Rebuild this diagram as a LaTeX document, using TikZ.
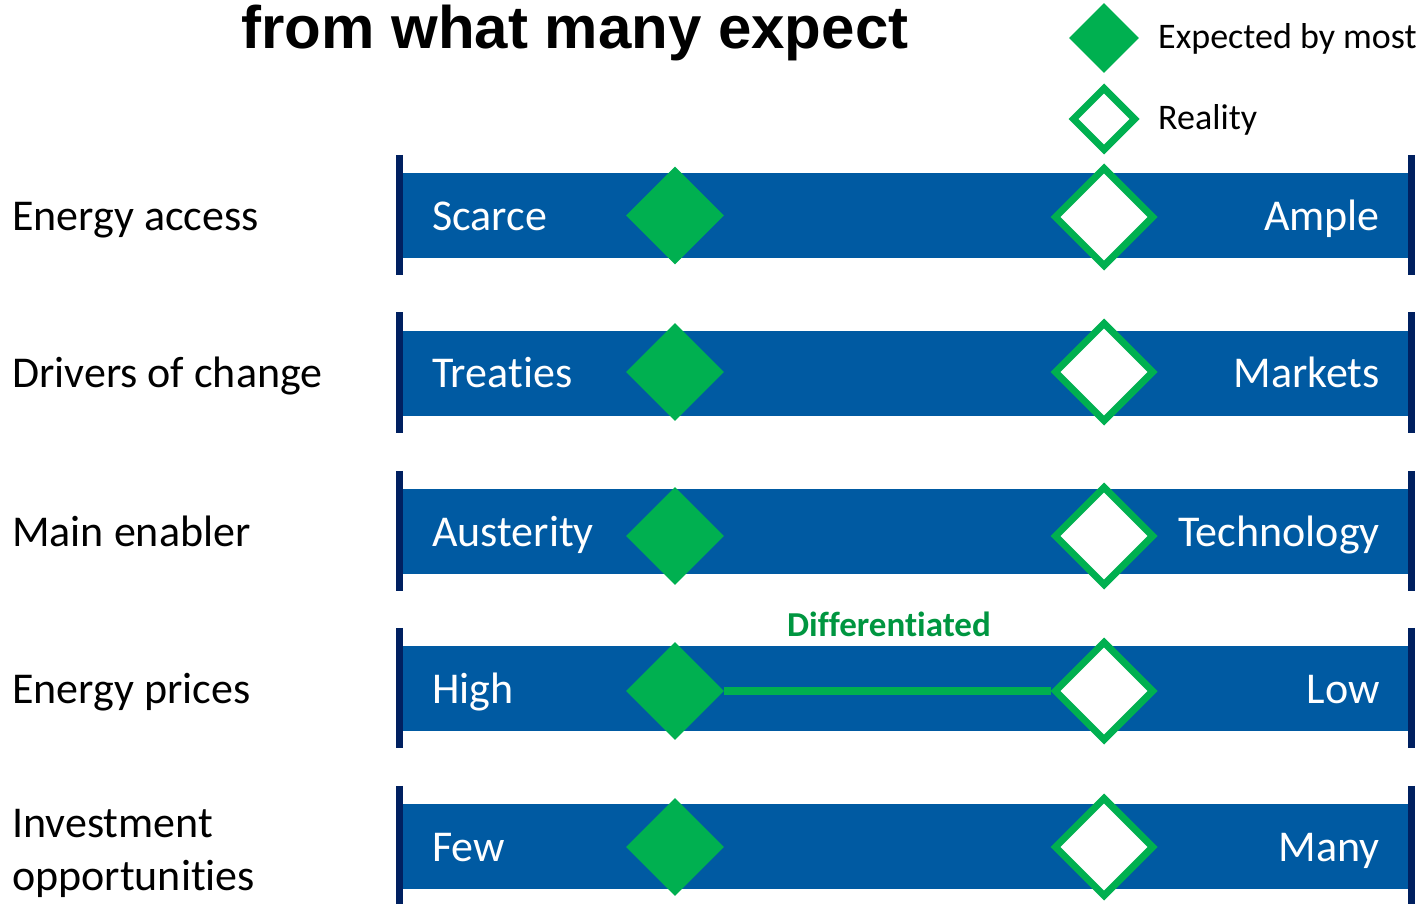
\documentclass[tikz,border=0pt]{standalone}
\usepackage{fontspec}
\setmainfont{Carlito}[Ligatures=NoCommon]
\newfontfamily\titlefont{Liberation Sans}
\usepackage{tikz}
\usetikzlibrary{shapes.geometric}

\definecolor{barblue}{RGB}{0,90,162}
\definecolor{ticknavy}{RGB}{0,32,96}
\definecolor{markgreen}{RGB}{0,176,80}
\definecolor{notegreen}{RGB}{0,150,64}

\begin{document}
\begin{tikzpicture}[x=1pt,y=-1pt]
\tikzset{BarStyle/.style = {fill= barblue, minimum width= 1005pt, minimum height= 85pt, inner sep= 0pt},
         TickStyle/.style = {draw= ticknavy, line width= 7pt},
         ExpectStyle/.style = {diamond, aspect= 1, fill= markgreen, minimum size= 98pt, inner sep= 0pt},
         RealStyle/.style = {diamond, aspect= 1, draw= markgreen, fill= white, line width= 7pt, minimum size= 100pt, inner sep= 0pt},
         BarText/.style = {text= white, inner sep= 0pt, font= \fontsize{44}{50}\selectfont},
         RowLabel/.style = {anchor= base west, inner sep= 0pt, align= left, font= \fontsize{44}{53}\selectfont},
         KeyText/.style = {anchor= west, inner sep= 0pt, font= \fontsize{36}{42}\selectfont}
}
    \useasboundingbox (0,0) rectangle (1423,904);

    % Title and key
    \node[anchor= base, inner sep= 0pt, font= \titlefont\bfseries\fontsize{60}{70}\selectfont] (title) at (575,49) {from what many expect};
    \node[ExpectStyle, minimum size= 70pt] (keyexp) at (1104,38) {};
    \node[RealStyle, minimum size= 64pt] (keyreal) at (1104,119) {};
    \node[KeyText] (keyexptext) at (1158,39) {Expected by most};
    \node[KeyText] (keyrealtext) at (1158,120) {Reality};

    % Rows: bars
    \node[BarStyle] (bar1) at (905.5,215.5) {};
    \node[BarStyle] (bar2) at (905.5,373) {};
    \node[BarStyle] (bar3) at (905.5,531.5) {};
    \node[BarStyle] (bar4) at (905.5,688.5) {};
    \node[BarStyle] (bar5) at (905.5,846.5) {};

    % end ticks
    \draw[TickStyle] ([xshift=-3.5pt,yshift=18pt]bar1.north west) -- ([xshift=-3.5pt,yshift=-17pt]bar1.south west);
    \draw[TickStyle] ([xshift=3.5pt,yshift=18pt]bar1.north east) -- ([xshift=3.5pt,yshift=-17pt]bar1.south east);
    \draw[TickStyle] ([xshift=-3.5pt,yshift=18pt]bar2.north west) -- ([xshift=-3.5pt,yshift=-17pt]bar2.south west);
    \draw[TickStyle] ([xshift=3.5pt,yshift=18pt]bar2.north east) -- ([xshift=3.5pt,yshift=-17pt]bar2.south east);
    \draw[TickStyle] ([xshift=-3.5pt,yshift=18pt]bar3.north west) -- ([xshift=-3.5pt,yshift=-17pt]bar3.south west);
    \draw[TickStyle] ([xshift=3.5pt,yshift=18pt]bar3.north east) -- ([xshift=3.5pt,yshift=-17pt]bar3.south east);
    \draw[TickStyle] ([xshift=-3.5pt,yshift=18pt]bar4.north west) -- ([xshift=-3.5pt,yshift=-17pt]bar4.south west);
    \draw[TickStyle] ([xshift=3.5pt,yshift=18pt]bar4.north east) -- ([xshift=3.5pt,yshift=-17pt]bar4.south east);
    \draw[TickStyle] ([xshift=-3.5pt,yshift=18pt]bar5.north west) -- ([xshift=-3.5pt,yshift=-17pt]bar5.south west);
    \draw[TickStyle] ([xshift=3.5pt,yshift=18pt]bar5.north east) -- ([xshift=3.5pt,yshift=-17pt]bar5.south east);

    % Row labels
    \node[RowLabel] (lab1) at (12,230) {Energy access};
    \node[RowLabel] (lab2) at (12,387.5) {Drivers of change};
    \node[RowLabel] (lab3) at (12,546) {Main enabler};
    \node[RowLabel] (lab4) at (12,703) {Energy prices};
    \node[RowLabel, anchor= west] (lab5) at (12,853) {Investment\\opportunities};

    % Bar ends
    \node[BarText, anchor= base west] (left1) at (432,230) {Scarce};
    \node[BarText, anchor= base east] (right1) at (1380,230) {Ample};
    \node[BarText, anchor= base west] (left2) at (432,387.5) {Treaties};
    \node[BarText, anchor= base east] (right2) at (1380,387.5) {Markets};
    \node[BarText, anchor= base west] (left3) at (432,546) {Austerity};
    \node[BarText, anchor= base east] (right3) at (1380,546) {Technology};
    \node[BarText, anchor= base west] (left4) at (432,703) {High};
    \node[BarText, anchor= base east] (right4) at (1380,703) {Low};
    \node[BarText, anchor= base west] (left5) at (432,861) {Few};
    \node[BarText, anchor= base east] (right5) at (1380,861) {Many};

    % Markers
    \node[ExpectStyle] (exp1) at (675,215.5) {};
    \node[RealStyle] (real1) at (1104,217) {};
    \node[ExpectStyle] (exp2) at (675,372) {};
    \node[RealStyle] (real2) at (1104,372) {};
    \node[ExpectStyle] (exp3) at (675,536) {};
    \node[RealStyle] (real3) at (1104,536) {};
    \node[ExpectStyle] (exp4) at (675,691) {};
    \node[RealStyle] (real4) at (1104,691) {};
    \node[ExpectStyle] (exp5) at (675,847) {};
    \node[RealStyle] (real5) at (1104,847) {};

    \draw[markgreen, line width= 8pt] (exp4.east) -- (real4.west);
    \node[text= notegreen, inner sep= 0pt, font= \bfseries\fontsize{35}{42}\selectfont] (diffnote) at (889,624) {Differentiated};
\end{tikzpicture}
\end{document}
